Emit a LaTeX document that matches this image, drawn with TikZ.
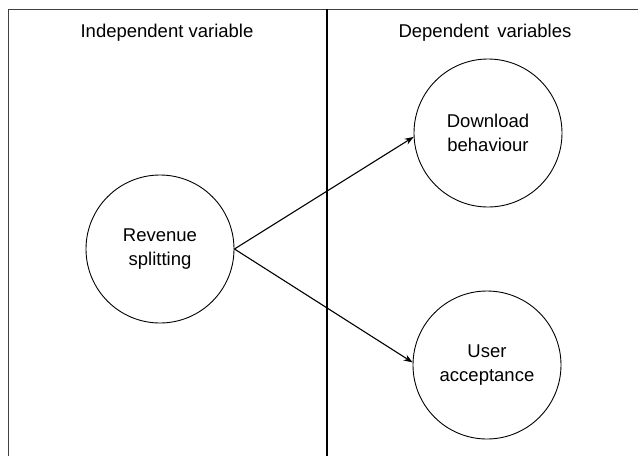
\documentclass[tikz,border=0pt]{standalone}
\usepackage{fontspec}
\setmainfont{Liberation Sans}
\usetikzlibrary{arrows.meta}
\begin{document}
\begin{tikzpicture}[x=1pt,y=-1pt,
  frame/.style={line width=1pt,draw=black!75},
  divider/.style={line width=1.3pt,draw=black},
  var/.style={circle,draw,line width=0.9pt,minimum size=148pt,inner sep=0pt,align=center,font=\fontsize{18.5}{24}\selectfont},
  head/.style={font=\fontsize{18.5}{23}\selectfont,anchor=base},
  link/.style={line width=1.1pt,-{Stealth[length=9pt,width=6.5pt]}}]
\useasboundingbox (0,0) rectangle (638,456);
\coordinate (tl) at (8,9);
\coordinate (tr) at (638,9);
\coordinate (bl) at (8,456);
\coordinate (dt) at (327,9);
\coordinate (db0) at (327,456);
\draw[frame] (bl) -- (tl) -- (tr);
\draw[divider] (dt) -- (db0);
\node[head] (hi) at (167,37) {Independent variable};
\node[head] (hd) at (485,37) {Dependent\hspace{0.45em}variables};
\node[var] (rs) at (160,249) {Revenue\\splitting};
\node[var] (dl) at (488,133) {Download\\behaviour};
\node[var] (ua) at (487,365) {User\\acceptance};
\draw[link] (rs.east) -- (dl.183);
\draw[link] (rs.east) -- (ua.178);
\end{tikzpicture}
\end{document}
